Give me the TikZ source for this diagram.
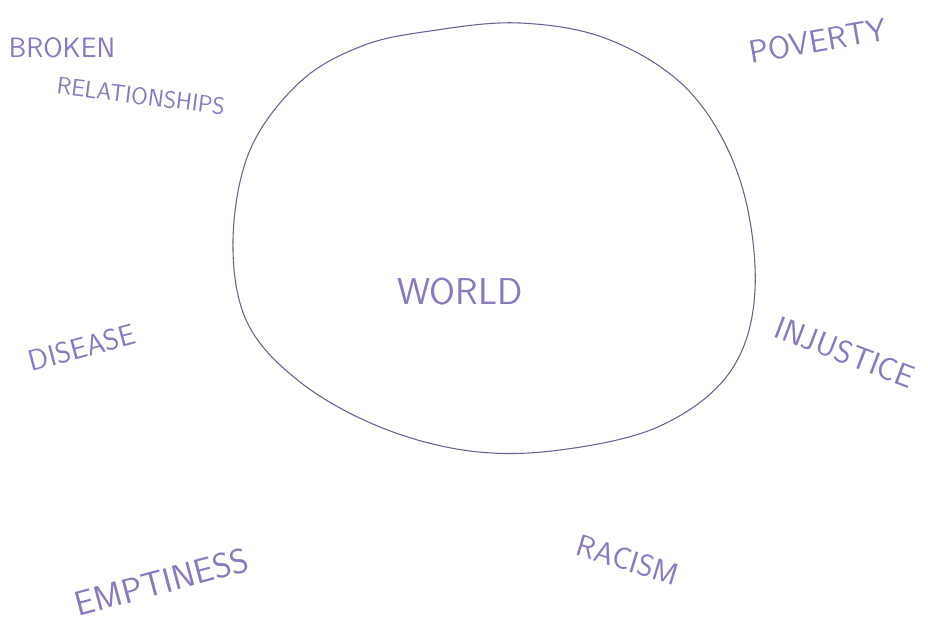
\documentclass[tikz,border=0pt]{standalone}
\usepackage{fontspec}
\begin{document}
\begin{tikzpicture}[x=0.75pt,y=-0.75pt,
  word/.style={text=wordcol,inner sep=0pt,anchor=center},
  ]
\newcommand{\hw}[2]{\sffamily\fontsize{#1}{#1}\selectfont\addfontfeature{LetterSpace=#2}}
\definecolor{wordcol}{HTML}{8A78C0}
\definecolor{linecol}{HTML}{6E5E94}
\useasboundingbox (0,0) rectangle (928,626);
\draw[linecol,line width=0.8pt] plot[smooth cycle,tension=0.6] coordinates {
 (430,31) (520,23) (610,40) (690,92) (740,180) (755,290) (730,372) (660,426)
 (560,450) (470,451) (380,427) (300,382) (247,322) (233,240) (250,150) (300,82) (362,46)};
\node[word,font=\hw{28}{26}] (world) at (460,292) {WORLD};
\node[word,font=\hw{21}{0}] (broken) at (62,48) {BROKEN};
\node[word,font=\hw{18}{0},rotate=-7] (rel) at (141,96) {RELATIONSHIPS};
\node[word,font=\hw{24}{0},rotate=10] (pov) at (818,41) {POVERTY};
\node[word,font=\hw{22}{0},rotate=15] (dis) at (82,348) {DISEASE};
\node[word,font=\hw{24}{0},rotate=-21] (inj) at (845,352) {INJUSTICE};
\node[word,font=\hw{26}{10},rotate=15] (emp) at (162,582) {EMPTINESS};
\node[word,font=\hw{23}{20},rotate=-17] (rac) at (628,560) {RACISM};
\end{tikzpicture}
\end{document}
